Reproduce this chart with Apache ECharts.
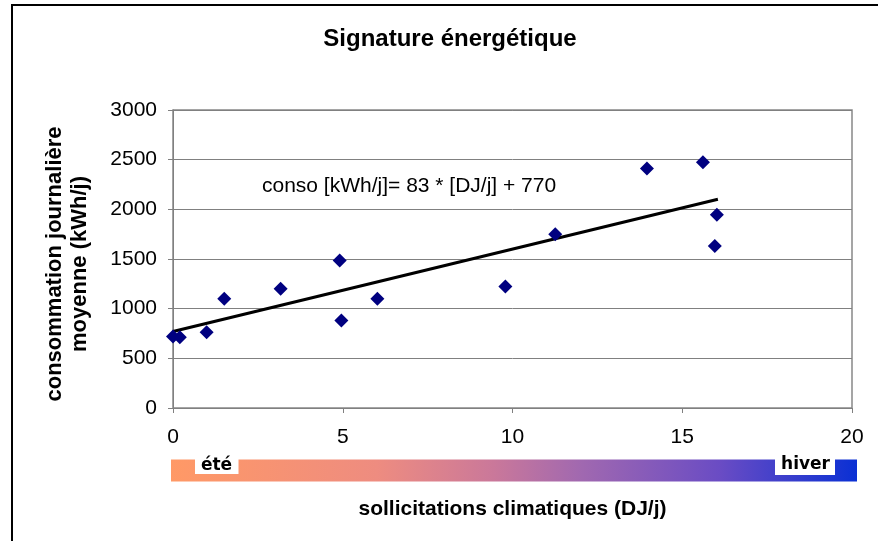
<!DOCTYPE html>
<html>
<head>
<meta charset="utf-8">
<script src="https://cdn.jsdelivr.net/npm/echarts@6/dist/echarts.min.js"></script>
<style>
html,body{margin:0;padding:0;background:#fff;}
#chart{width:878px;height:541px;}
</style>
</head>
<body>
<div id="chart"></div>
<script>
// Data
var djValues = [0.0, 0.2, 0.99, 1.51, 3.17, 4.91, 4.96, 6.02, 9.79, 11.26, 13.96, 15.61, 16.02, 15.96];
var consoValues = [720, 712, 762, 1100, 1200, 1485, 880, 1100, 1222, 1750, 2410, 2475, 1945, 1630];
var trendX = [0, 16.05];
var trendY = [770, 2102];
var xTicks = [0, 5, 10, 15, 20];
var yTicks = [0, 500, 1000, 1500, 2000, 2500, 3000];
var titleText = 'Signature énergétique';
var equationText = 'conso [kWh/j]= 83 * [DJ/j] + 770';
var xName = 'sollicitations climatiques (DJ/j)';
var yName = 'consommation journalière\nmoyenne (kWh/j)';
var seasonLabels = ['été', 'hiver'];

var points = djValues.map(function (x, i) { return [x, consoValues[i]]; });
var trend = trendX.map(function (x, i) { return [x, trendY[i]]; });

var chart = echarts.init(document.getElementById('chart'), null, {renderer: 'canvas'});
var FONT = '"Liberation Sans", Arial, sans-serif';
var LFONT = '"DejaVu Sans", sans-serif';

chart.setOption({
  backgroundColor: '#ffffff',
  animation: false,
  title: {
    text: titleText,
    left: 450,
    textAlign: 'center',
    top: 27,
    padding: 0,
    textStyle: {fontFamily: FONT, fontSize: 24, fontWeight: 'bold', color: '#000'}
  },
  grid: {
    left: 173, right: 26, top: 110, bottom: 133,
    show: true, borderColor: '#888888', borderWidth: 1.5, backgroundColor: 'transparent',
    containLabel: false
  },
  xAxis: {
    type: 'value',
    min: xTicks[0], max: xTicks[xTicks.length - 1], interval: 5,
    name: xName,
    nameLocation: 'middle',
    nameGap: 91,
    nameTextStyle: {fontFamily: FONT, fontSize: 21, fontWeight: 'bold', color: '#000'},
    axisLine: {show: true, lineStyle: {color: '#808080', width: 1}},
    axisTick: {show: true, inside: false, length: 5, lineStyle: {color: '#808080'}},
    axisLabel: {fontFamily: FONT, fontSize: 21, color: '#000', margin: 19, formatter: function (v) { return String(v); }},
    splitLine: {show: false}
  },
  yAxis: {
    type: 'value',
    min: yTicks[0], max: yTicks[yTicks.length - 1], interval: 500,
    name: yName,
    nameLocation: 'middle',
    nameGap: 81,
    nameTextStyle: {fontFamily: FONT, fontSize: 22, fontWeight: 'bold', color: '#000', lineHeight: 25, padding: [0, 10, 0, 0]},
    axisLine: {show: true, lineStyle: {color: '#808080', width: 1}},
    axisTick: {show: true, inside: false, length: 5, lineStyle: {color: '#808080'}},
    axisLabel: {fontFamily: FONT, fontSize: 21, color: '#000', margin: 16, formatter: function (v) { return String(v); }},
    splitLine: {show: true, lineStyle: {color: '#808080', width: 1}}
  },
  series: [
    {
      type: 'line',
      data: trend,
      symbol: 'none',
      lineStyle: {color: '#000000', width: 3},
      z: 3
    },
    {
      type: 'scatter',
      data: points,
      symbol: 'diamond',
      symbolSize: 14,
      itemStyle: {color: '#000080', opacity: 1},
      z: 4
    }
  ],
  graphic: [
    // outer frame (left and top)
    {type: 'line', shape: {x1: 12, y1: 5, x2: 12, y2: 541}, style: {stroke: '#000', lineWidth: 2}, silent: true},
    {type: 'line', shape: {x1: 11, y1: 5, x2: 878, y2: 5}, style: {stroke: '#000', lineWidth: 2}, silent: true},
    // gradient band
    {
      type: 'rect',
      shape: {x: 171, y: 459.5, width: 686, height: 22},
      style: {
        fill: new echarts.graphic.LinearGradient(0, 0, 1, 0, [
          {offset: 0, color: '#FF9966'},
          {offset: 0.3, color: '#EE8C80'},
          {offset: 0.47, color: '#CA789A'},
          {offset: 0.6, color: '#A068B0'},
          {offset: 0.8, color: '#6A4CC4'},
          {offset: 1, color: '#0A30D4'}
        ])
      },
      silent: true
    },
    {type: 'rect', shape: {x: 195, y: 452, width: 43.5, height: 22}, style: {fill: '#fff'}, silent: true},
    {type: 'rect', shape: {x: 775, y: 452, width: 60, height: 23}, style: {fill: '#fff'}, silent: true},
    {
      type: 'text', x: 216.5, y: 465.5,
      style: {text: seasonLabels[0], font: 'bold 17px ' + LFONT, fill: '#000', align: 'center', verticalAlign: 'middle', textAlign: 'center', textVerticalAlign: 'middle'},
      silent: true
    },
    {
      type: 'text', x: 805.5, y: 464.5,
      style: {text: seasonLabels[1], font: 'bold 17px ' + LFONT, fill: '#000', align: 'center', verticalAlign: 'middle', textAlign: 'center', textVerticalAlign: 'middle'},
      silent: true
    },
    {
      type: 'text', x: 262, y: 186,
      style: {text: equationText, font: '21px ' + FONT, fill: '#000', align: 'left', verticalAlign: 'middle', textAlign: 'left', textVerticalAlign: 'middle'},
      silent: true
    }
  ]
});
</script>
</body>
</html>
